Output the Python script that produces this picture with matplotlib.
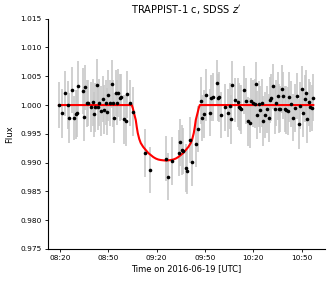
# TRAPPIST-1 c transit light curve, SDSS z'
import pandas as pd
import numpy as np
import matplotlib
matplotlib.use('Agg')
import matplotlib.pyplot as plt
import matplotlib.dates as mdates

# observation start reference (minutes are counted from here)
t0 = pd.Timestamp('2016-06-19 08:20')

# data points: minutes after 08:20 UTC, relative flux, flux error
t_min = [
    -0.62, 1.43, 3.41, 5.09, 5.90, 7.76, 8.57, 9.93, 10.68, 11.36,
    14.09, 14.90, 15.70, 16.76, 17.38, 19.43, 20.30, 21.10, 21.73, 22.97,
    23.59, 24.40, 25.45, 26.51, 27.50, 28.43, 29.30, 29.98, 31.16, 32.09,
    32.90, 33.64, 34.58, 35.63, 35.94, 37.00, 37.86, 39.91, 40.78, 41.78,
    43.64, 45.13,
    53.07, 56.18, 65.92, 66.85, 69.40, 73.87, 74.80, 75.73, 76.66, 78.21,
    79.14, 80.70, 81.94, 84.30, 85.66,
    87.46, 88.39, 89.39, 90.94, 92.99, 93.92, 94.79, 97.27, 98.26, 98.88,
    99.94, 102.61, 104.47, 105.34, 106.15, 106.95, 108.81, 110.49, 111.11, 111.73,
    112.54, 114.21, 115.27, 116.88, 117.94, 118.75, 119.99, 120.86, 121.48, 122.28,
    123.34, 124.15, 125.39, 126.01, 127.44, 128.49, 129.55, 130.35, 131.16, 132.22,
    133.27, 134.27, 135.13, 136.13, 136.75, 137.62, 138.61, 139.66, 140.47, 141.34,
    141.96, 143.20, 144.63, 145.69, 147.30, 148.36, 149.16, 150.03, 151.02, 151.89,
    152.70, 153.51, 154.56, 155.37, 156.24, 157.23,
]
flux = [
    1.0000, 0.99856, 1.00208, 1.0000, 0.99774, 1.00266, 0.99774, 0.99839, 0.99858, 1.00325,
    1.00247, 0.99792, 1.00307, 1.00030, 1.00030, 0.99965, 1.00047, 0.99839, 0.99960, 1.00352,
    0.99965, 1.00040, 0.99896, 1.00101, 0.99922, 1.00043, 0.99882, 1.00170, 1.00030, 1.00361,
    1.00030, 0.99771, 1.00217, 1.00043, 1.00205, 1.00130, 1.00142, 0.99752, 0.99727, 1.00187,
    1.00040, 0.99887,
    0.99167, 0.98880, 0.99068, 0.98755, 0.99023, 0.99162, 0.99354, 0.99215, 0.99198, 0.98912,
    0.98863, 0.99387, 0.99007, 0.99328, 0.99589,
    1.00075, 0.99769, 0.99844, 1.00168, 0.99866, 1.00122, 1.00139, 1.00391, 1.00127, 1.00139,
    0.99826, 0.99960, 0.99861, 0.99988, 0.99752, 1.00352, 1.00087, 1.00047, 0.99970, 0.99948,
    0.99925, 1.00260, 1.00064, 0.99717, 0.99688, 1.00075, 1.00030, 1.00023, 1.00359, 0.99826,
    1.00017, 0.99918, 1.00040, 0.99727, 0.99821, 0.99925, 0.99780, 1.00087, 1.00127, 1.00330,
    0.99925, 1.00035, 1.00156, 0.99936, 0.99936, 1.00283, 1.00161, 0.99936, 0.99918, 0.99896,
    1.00144, 1.00012, 0.99780, 0.99953, 1.00151, 0.99670, 0.99988, 1.00273, 0.99861, 1.00109,
    1.00214, 0.99762, 1.00047, 0.99965, 0.99948, 1.00127,
]
flux_err = [
    0.0040, 0.0042, 0.0039, 0.0041, 0.0043, 0.0040, 0.0038, 0.0042, 0.0041, 0.0044,
    0.0040, 0.0042, 0.0039, 0.0041, 0.0040, 0.0043, 0.0041, 0.0039, 0.0042, 0.0044,
    0.0040, 0.0041, 0.0043, 0.0040, 0.0042, 0.0039, 0.0041, 0.0044, 0.0040, 0.0042,
    0.0041, 0.0043, 0.0040, 0.0039, 0.0042, 0.0041, 0.0040, 0.0043, 0.0044, 0.0041,
    0.0040, 0.0042,
    0.0041, 0.0040, 0.0039, 0.0041, 0.0042, 0.0040, 0.0041, 0.0043, 0.0040, 0.0042,
    0.0041, 0.0040, 0.0042, 0.0041, 0.0040,
    0.0041, 0.0040, 0.0042, 0.0045, 0.0041, 0.0040, 0.0042, 0.0039, 0.0041, 0.0043,
    0.0040, 0.0041, 0.0042, 0.0040, 0.0043, 0.0041, 0.0039, 0.0042, 0.0041, 0.0040,
    0.0043, 0.0041, 0.0040, 0.0042, 0.0044, 0.0040, 0.0041, 0.0043, 0.0039, 0.0042,
    0.0040, 0.0041, 0.0042, 0.0043, 0.0040, 0.0041, 0.0042, 0.0040, 0.0041, 0.0039,
    0.0042, 0.0040, 0.0041, 0.0043, 0.0040, 0.0042, 0.0041, 0.0040, 0.0042, 0.0041,
    0.0043, 0.0040, 0.0041, 0.0042, 0.0040, 0.0043, 0.0041, 0.0040, 0.0042, 0.0041,
    0.0040, 0.0042, 0.0041, 0.0043, 0.0040, 0.0041,
]

# best-fit transit model (minutes after 08:20, flux)
model_t = [
    -0.62, 44.57, 45.19, 45.81, 47.05, 47.67, 48.29, 49.22, 50.15, 51.70,
    53.26, 54.81, 56.36, 57.91, 59.46, 61.01, 62.57, 64.12, 65.67, 67.22,
    68.77, 70.33, 71.88, 73.43, 74.98, 76.53, 78.08, 79.64, 81.19, 82.12,
    83.05, 83.67, 84.29, 85.53, 86.15, 86.77, 157.23,
]
model_flux = [
    1.0, 1.0, 0.99948, 0.99878, 0.99740, 0.99618, 0.99514, 0.99410, 0.99340, 0.99271,
    0.99219, 0.99167, 0.99132, 0.99097, 0.99071, 0.99054, 0.99045, 0.99040, 0.99036, 0.99040,
    0.99045, 0.99054, 0.99071, 0.99097, 0.99132, 0.99167, 0.99219, 0.99271, 0.99340, 0.99410,
    0.99514, 0.99618, 0.99740, 0.99878, 0.99948, 1.0, 1.0,
]

times = t0 + pd.to_timedelta(t_min, unit='min')
mtimes = t0 + pd.to_timedelta(model_t, unit='min')

fig = plt.figure(figsize=(3.35, 2.81), dpi=100)
ax = fig.add_axes([0.1424, 0.1139, 0.8278, 0.8196])

ax.errorbar(times, flux, yerr=flux_err, fmt='none', ecolor='#c8c8c8',
            elinewidth=1.2, zorder=1)
ax.plot(mtimes, model_flux, color='red', lw=1.5, zorder=2)
ax.plot(times, flux, 'o', color='k', markersize=2.6, mew=0, zorder=3)

ax.set_ylim(0.975, 1.015)
ax.set_xlim(t0 + pd.Timedelta(minutes=-7.6), t0 + pd.Timedelta(minutes=164.5))
ax.set_yticks(np.arange(0.975, 1.0151, 0.005))
ax.yaxis.set_major_formatter(plt.FormatStrFormatter('%.3f'))
ax.xaxis.set_major_locator(mdates.MinuteLocator(byminute=[20, 50]))
ax.xaxis.set_major_formatter(mdates.DateFormatter('%H:%M'))

for s in ['top', 'right']:
    ax.spines[s].set_visible(False)
for s in ['left', 'bottom']:
    ax.spines[s].set_linewidth(0.8)
ax.tick_params(labelsize=5.3, length=2.5, width=0.6, pad=2)

ax.set_xlabel('Time on 2016-06-19 [UTC]', fontsize=6, labelpad=2)
ax.set_ylabel('Flux', fontsize=6, labelpad=4)
ax.set_title("TRAPPIST-1 c, SDSS $z'$", fontsize=7.1, pad=4)

fig.savefig('out.png', dpi=100)
